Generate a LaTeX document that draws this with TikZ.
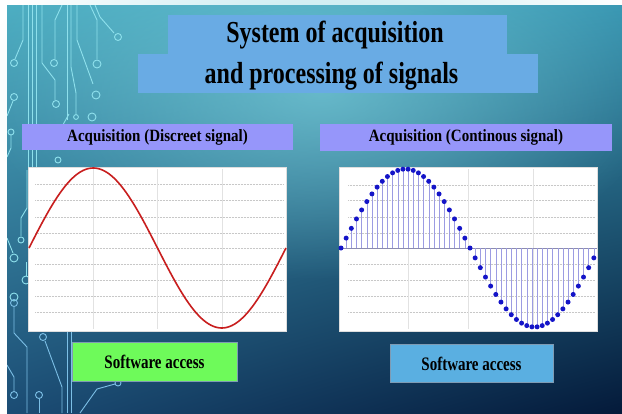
\documentclass[tikz,border=0pt]{standalone}
\usepackage{fontspec}
\usepackage{graphicx}
\setmainfont{Liberation Serif}
\usetikzlibrary{fadings,shadings}
\definecolor{bgul}{HTML}{4DAEC2}
\definecolor{bgur}{HTML}{3A98B3}
\definecolor{bgll}{HTML}{1B4C74}
\definecolor{bglr}{HTML}{041A3A}
\definecolor{blobc}{HTML}{80D2DE}
\definecolor{titlec}{HTML}{69ABE4}
\definecolor{headc}{HTML}{9696FA}
\definecolor{greenc}{HTML}{6EFA5A}
\definecolor{bluec}{HTML}{5AAFE1}
\definecolor{boxedge}{HTML}{7E9BB4}
\definecolor{circuitc}{HTML}{8EE0EC}
\definecolor{circuitd}{HTML}{7CBFE6}
\definecolor{gridc}{HTML}{C8C8C8}
\definecolor{vgridc}{HTML}{E2E2E2}
\definecolor{sinec}{HTML}{C81E1E}
\definecolor{dotc}{HTML}{1414C8}
\definecolor{stemc}{HTML}{9C9CE2}
\definecolor{axisc}{HTML}{8C8CB0}
\tikzfading[name=softblob, inner color=transparent!35, outer color=transparent!100]
\newcommand{\tallA}[1]{\scalebox{1}[1.27]{#1}}
\newcommand{\tallB}[1]{\scalebox{1}[1.15]{#1}}
\begin{document}
\begin{tikzpicture}[x=1pt,y=-1pt,
  circ/.style={draw=circuitc, line width=0.9pt},
  circd/.style={draw=circuitd, line width=0.9pt},
  txt/.style={font=\bfseries\fontsize{15}{18}\selectfont, text=black, inner sep=0pt},
  titletxt/.style={font=\bfseries\fontsize{24}{28}\selectfont, text=black, inner sep=0pt},
  headbar/.style={fill=headc, inner sep=0pt},
  accbox/.style={draw=boxedge, line width=0.8pt, inner sep=0pt},
  plotframe/.style={fill=white, draw=gridc!60, line width=0.4pt},
  hgrid/.style={draw=gridc, densely dotted, line width=0.5pt},
  vgrid/.style={draw=vgridc, line width=0.5pt},
  sineline/.style={draw=sinec, line width=1.6pt},
  stem/.style={draw=stemc, line width=0.4pt}
]
\useasboundingbox (0,0) rectangle (622,413);
\fill[white] (0,0) rectangle (622,413);
% background
\shade[upper left=bgul, upper right=bgur, lower left=bgll, lower right=bglr] (7,5) rectangle (622,413);
\fill[blobc, path fading=softblob] (320,90) ellipse [x radius=340pt, y radius=190pt];
% circuit decoration
\begin{scope}
\clip (7,5) rectangle (622,413);
\draw[circ] (23,5) -- (23,40) -- (15,59);
\draw[circ] (14,63) circle (3.5pt);
\draw[circ] (28,5) -- (28,170);
\draw[circ] (32,5) -- (32,170);
\draw[circ] (36,5) -- (36,170);
\draw[circ] (42,5) -- (42,63) -- (55,80) -- (55,100);
\draw[circ] (56,104) circle (3.5pt);
\draw[circ] (62,5) -- (55,20) -- (55,59);
\draw[circ] (54,63) circle (3.5pt);
\draw[circ] (67,5) -- (67,120);
\draw[circ] (71,5) -- (71,67) -- (76,93) -- (76,114);
\draw[circ] (76,117) circle (2.4pt);
\draw[circ] (77,5) -- (77,40) -- (93,84);
\draw[circ] (96,95) circle (4pt);
\draw[circ] (90,5) -- (97,20) -- (97,59);
\draw[circ] (97,64) circle (4pt);
\draw[circ] (95,5) -- (100,17) -- (114,33);
\draw[circ] (118,37) circle (3.5pt);
\draw[circ] (14,97) circle (3.5pt);
\draw[circ] (13,101) -- (7,116);
\draw[circ] (60,130) -- (69,114);
\draw[circ] (92,117) circle (4pt);
\draw[circ] (11,132) circle (3pt);
\draw[circ] (11,135) -- (11,148) -- (7,157);
\draw[circ] (58,160) circle (3pt);
\draw[circ] (27,170) -- (27,208) -- (21,218) -- (21,236);
\draw[circ] (21,240) circle (3pt);
\draw[circ] (7,238) -- (13,253);
\draw[circ] (14,258) circle (4pt);
\draw[circ] (26,262) -- (26,276);
\draw[circ] (26,280) circle (4pt);
\draw[circ] (14,297) circle (4pt);
\draw[circd] (14,303) circle (3.5pt);
\draw[circd] (14,307) -- (14,333) -- (27,347) -- (27,413);
\draw[circd] (43,337) circle (3.5pt);
\draw[circd] (45,341) -- (62,387) -- (62,413);
\draw[circd] (67,330) -- (67,413);
\draw[circd] (71,330) -- (71,413);
\draw[circd] (14,395) circle (3.5pt);
\draw[circd] (14,391) -- (14,377) -- (7,365);
\draw[circd] (39,395) circle (3.5pt);
\draw[circd] (39,399) -- (39,413);
\draw[circd] (80,413) -- (97,389) -- (115,384);
\draw[circd] (118,383) circle (3pt);
\end{scope}
% title
\fill[titlec] (168,15) rectangle (507,55);
\fill[titlec] (138,54) rectangle (538,93);
\node[titletxt, anchor=base] (title1) at (335,42) {\tallA{System of acquisition}};
\node[titletxt, anchor=base] (title2) at (331.5,83) {\tallA{and processing of signals}};
% headings
\node[headbar, minimum width=271pt, minimum height=26pt] (hleft) at (157.5,137) {};
\node[txt, anchor=base] (hlefttxt) at (157.5,141) {\tallB{Acquisition (Discreet signal)}};
\node[headbar, minimum width=292pt, minimum height=27pt] (hright) at (466,137.5) {};
\node[txt, anchor=base] (hrighttxt) at (466,141) {\tallB{Acquisition (Continous signal)}};
% left plot
\draw[plotframe] (28,167) rectangle (286,331);
\foreach \gy in {184,200,217,233,248,264,280,296,312}{
  \draw[hgrid] (35,\gy) -- (284,\gy);
}
\foreach \gx in {93,157,222}{
  \draw[vgrid] (\gx,169) -- (\gx,329);
}
\draw[sineline] plot[domain=0:360, samples=120, smooth] ({29+\x/360*257},{248-80*sin(\x)});
% right plot
\draw[plotframe] (339,167) rectangle (597,331);
\foreach \gy in {185,200,217,233,264,280,296,312}{
  \draw[hgrid] (348,\gy) -- (595,\gy);
}
\foreach \gx in {408,468,533}{
  \draw[vgrid] (\gx,169) -- (\gx,329);
}
\draw[draw=axisc, line width=0.7pt] (341,248) -- (597,248);
\foreach \n in {0,...,49}{
  \pgfmathsetmacro\xx{341+\n*5.16}
  \pgfmathsetmacro\yy{248-79*sin(7.2*\n)}
  \draw[stem] (\xx,248) -- (\xx,\yy);
}
\foreach \n in {0,...,49}{
  \pgfmathsetmacro\xx{341+\n*5.16}
  \pgfmathsetmacro\yy{248-79*sin(7.2*\n)}
  \fill[dotc] (\xx,\yy) circle (2.5pt);
}
% software access boxes
\node[accbox, fill=greenc, minimum width=165pt, minimum height=39pt] (swleft) at (154.5,361.5) {};
\node[txt, anchor=base] (swlefttxt) at (154.5,368.5) {\tallA{Software access}};
\node[accbox, fill=bluec, minimum width=163pt, minimum height=38pt] (swright) at (471.5,363) {};
\node[txt, anchor=base] (swrighttxt) at (471.5,370) {\tallA{Software access}};
\end{tikzpicture}
\end{document}
